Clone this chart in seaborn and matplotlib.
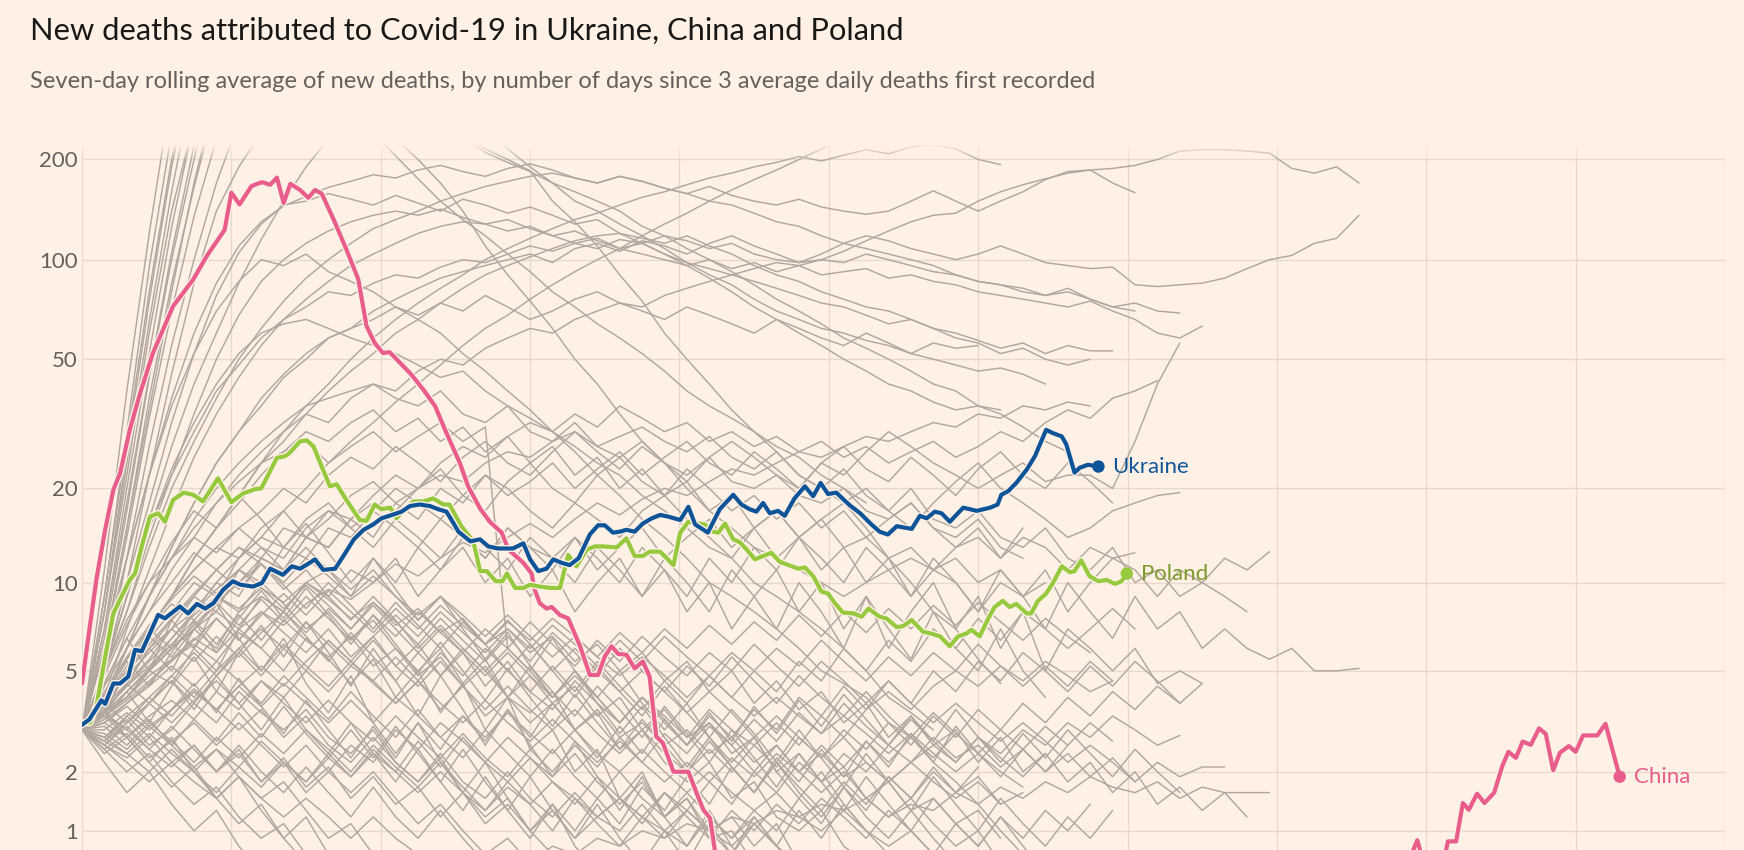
import numpy as np
import pandas as pd
import matplotlib
matplotlib.use("Agg")
import matplotlib.pyplot as plt
import matplotlib.patheffects as pe
import seaborn as sns

BG = "#FFF1E5"
GRID = "#E6D9CD"
GREY = "#B1A79E"
PINK = "#E95D8C"
BLUE = "#0F5499"
GREEN = "#96C93D"
GREEN_TXT = "#7D9A2B"
TXT = "#66605C"

sns.set_style("white", {"axes.facecolor": BG, "figure.facecolor": BG})
plt.rcParams["font.family"] = ["Lato", "DejaVu Sans"]

TITLE = "New deaths attributed to Covid-19 in Ukraine, China and Poland"
SUBTITLE = ("Seven-day rolling average of new deaths, by number of days since "
            "3 average daily deaths first recorded")
Y_TICKS = [1, 2, 5, 10, 20, 50, 100, 200]
Y_TICK_LABELS = ["1", "2", "5", "10", "20", "50", "100", "200"]
X_GRID_DAYS = list(range(0, 221, 20))

# ---- highlighted countries (day since 3 avg deaths, 7-day avg deaths) ----
china_days = [0, 1.1, 2, 3.1, 4.2, 5.1, 6.4, 7.8, 9.5, 12.2, 14.9, 16.7, 19.1, 20, 21.1,
              22.7, 24.1, 25.2, 26.1, 27, 27.9, 29.2, 30.3, 31.2, 32.1, 33.7, 35.4, 37,
              38.1, 39.2, 40.3, 41.2, 42.6, 44.1, 45.7, 47.3, 48.8, 50.6, 51.7, 53.3, 54.6,
              56.2, 57.1, 59.1, 60.2, 60.6, 61.3, 62.2, 62.9, 64, 65.1, 66.7, 68, 69.1, 70,
              70.9, 71.8, 72.9, 74, 75.1, 76, 76.9, 77.8, 79.2, 80, 81.2, 82.3, 83.2, 84.1,
              85, 86, 90, 100, 120, 140, 160, 177, 178.8, 180, 182, 182.9, 184, 184.9,
              185.7, 186.8, 187.8, 189.1, 190.2, 191, 192, 192.9, 194, 195.1, 196, 197,
              197.9, 199.1, 200, 201, 202.9, 204, 205.9]
china_vals = [4.5, 7.3, 10.5, 14.8, 19.8, 22.3, 30.4, 39.5, 52.2, 72.4, 87.2, 102.5, 123, 159,
              146.6, 166.5, 171, 168, 176.5, 148, 169, 162, 153.5, 162, 158, 132, 107.4, 87.2,
              63, 56, 52.2, 52.5, 48.7, 44.9, 40.4, 35.9, 29.7, 24, 20.3, 17.3, 15.7,
              14.5, 12.8, 11.6, 10.7, 9.5, 8.55, 8.2, 8.3, 7.8, 7.6, 6.1, 4.83, 4.83, 5.62,
              6.1, 5.74, 5.7, 5.1, 5.4, 4.77, 2.82, 2.65, 2.0, 2.0, 2.0, 1.59, 1.31, 1.18,
              0.6, 0.4, 0.3, 0.2, 0.1, 0.2, 0.3, 0.5, 0.875, 0.5, 0.5, 0.86, 0.86, 1.42,
              1.31, 1.58, 1.42, 1.6, 2.13, 2.44, 2.3, 2.69, 2.61, 3.04, 2.89, 2.03,
              2.42, 2.58, 2.44, 2.85, 2.85, 3.17, 1.9]

ukraine_days = [0, 1, 2.6, 3.1, 4.2, 5.1, 6.2, 7.1, 8, 8.9, 10.2, 11.1, 13.1, 14.2, 15.4, 16.5,
                17.6, 18.9, 20.2, 21.2, 22.9, 24.1, 25.2, 26.9, 28.1, 29.2, 30.5, 31.2, 32.3,
                33.9, 35, 36.4, 37.7, 39, 40.1, 41.5, 42.8, 43.9, 45.2, 46.6, 47.7, 48.8, 49.7,
                50.4, 52, 53.3, 54.4, 55.7, 57.7, 59.1, 60, 61.1, 62.2, 63.1, 64.2, 65.3, 66.5,
                68, 69.1, 70, 71.1, 72, 72.9, 74, 75.1, 76.3, 77.4, 78.5, 80.1, 81.2, 82.1,
                83.8, 85.4, 87.2, 88.3, 89.4, 90.3, 91.2, 92.1, 93.2, 94.1, 95.4, 96.8, 97.9,
                98.9, 99.9, 101, 102.8, 104.2, 105.7, 106.8, 107.9, 109.1, 111.1, 112.2, 113.1,
                114.2, 115.1, 116.2, 118, 119.8, 121.6, 122.6, 123.1, 124, 125.1, 126.5, 127.6,
                129.1, 130, 131.2, 131.8, 132.9, 133.6, 134.7, 136.1]
ukraine_vals = [3.14, 3.3, 3.9, 3.78, 4.5, 4.5, 4.77, 5.93, 5.86, 6.59, 7.81, 7.6, 8.33, 7.9, 8.5,
                8.2, 8.55, 9.47, 10.1, 9.84, 9.7, 9.97, 11.1, 10.6, 11.3, 11.1, 11.6, 11.9, 11.0,
                11.1, 12.2, 13.8, 14.8, 15.4, 16.1, 16.5, 16.9, 17.6, 17.8, 17.6, 17.2, 16.9, 15.6,
                14.6, 13.6, 13.8, 13.1, 12.9, 12.9, 13.4, 11.9, 10.9, 11.1, 11.9, 11.6, 11.4, 12.0,
                14.3, 15.3, 15.3, 14.5, 14.6, 14.8, 14.6, 15.5, 16.1, 16.5, 16.3, 15.9, 17.5, 15.4,
                14.5, 17.2, 19.1, 17.8, 17.2, 16.9, 18.0, 16.7, 17.0, 16.4, 18.6, 20.3, 18.9,
                20.8, 19.2, 19.4, 17.7, 16.7, 15.4, 14.6, 14.3, 15.2, 14.9, 16.4, 16.1,
                16.9, 16.7, 15.7, 17.4, 17.0, 17.4, 17.8, 19.1, 19.6, 20.8, 22.9, 25.2,
                30.4, 29.7, 29.0, 27.4, 22.4, 23.2, 23.7, 23.4]

poland_days = [0, 1.1, 2, 3.1, 4.2, 5.3, 6.4, 7.1, 8, 9.1, 10.2, 11.1, 12.2, 13.6, 14.9, 16.2,
               18.2, 20, 21.6, 23.2, 24, 26.1, 27.2, 27.8, 29.2, 30.1, 31, 32.1, 33.2, 34.1,
               35.4, 37.2, 38.1, 39.2, 40.1, 41.3, 42.1, 43.5, 44.4, 45.7, 47, 48.4, 49.2, 50.8,
               52.4, 53.3, 54.2, 55.4, 56.3, 56.9, 58, 59.1, 60, 61.3, 62.7, 64, 65.1, 66.2,
               67.6, 68.7, 69.8, 71.6, 72.9, 74, 75.1, 76, 77.4, 78, 79.2, 80.1, 81.2, 82.5,
               83.4, 84.5, 85.2, 86.1, 87.2, 88.1, 89, 90.1, 91.2, 92.3, 93.4, 94.6, 95.9, 96.8,
               97.9, 99, 99.9, 100.8, 101.9, 103.3, 104.4, 105.3, 106.8, 107.7, 109.1, 109.9,
               111.1, 112.6, 113.7, 114.9, 116.2, 117.3, 118.4, 119.1, 120.2, 121.3, 122.2,
               123.3, 124.2, 125.1, 126.5, 127.1, 128, 129.1, 130, 131.2, 132.3, 132.9, 133.8,
               134.9, 136.1, 137.2, 138.3, 139.2, 139.9]
poland_vals = [3.2, 3.2, 3.8, 5.6, 7.9, 9.0, 10.2, 10.7, 13.1, 16.3, 16.7, 15.7, 18.4, 19.4, 19.1,
               18.2, 21.5, 18.1, 19.3, 19.9, 20.0, 24.9, 25.2, 25.8, 28.0, 28.2, 27.0, 23.4, 20.3,
               20.6, 18.4, 15.9, 15.8, 17.8, 17.2, 17.4, 16.1, 17.5, 18.2, 18.2, 18.6, 17.8, 17.8,
               15.2, 13.6, 10.9, 10.9, 10.1, 10.1, 10.7, 9.6, 9.6, 9.84, 9.7, 9.6, 9.6, 12.3, 11.3,
               12.8, 13.1, 13.1, 13.0, 13.9, 12.2, 12.2, 12.6, 12.6, 12.2, 11.4, 14.5, 15.7, 15.5,
               15.4, 14.6, 14.5, 15.5, 13.8, 13.5, 12.8, 11.9, 12.2, 12.5, 11.7, 11.4, 11.1, 11.2,
               10.5, 9.35, 9.2, 8.55, 7.95, 7.9, 7.7, 8.2, 7.7, 7.6, 7.1, 7.15,
               7.5, 6.85, 6.75, 6.6, 6.1, 6.6, 6.75, 6.95, 6.6, 7.55, 8.3,
               8.7, 8.3, 8.5, 7.9, 7.9, 8.7, 9.2, 9.96, 11.3, 10.8, 10.9, 11.8,
               10.5, 10.1, 10.2, 9.9, 10.1, 10.7]

# ---- other countries: 7-day avg deaths every GREY_STEP days from day 0 ----
GREY_STEP = 3
grey_series = [
    # steep early risers
    [3, 11, 40, 120, 320, 700],
    [3, 9, 30, 95, 240, 500],
    [3, 8, 26, 75, 190, 400],
    [3, 8, 24, 65, 160, 350],
    [3, 7, 20, 52, 125, 260, 480],
    [3, 6.5, 17, 44, 100, 200, 380],
    [3, 6, 15, 38, 85, 165, 300],
    [3, 6, 14, 33, 70, 135, 230, 400],
    [3, 5, 12, 27, 55, 100, 170, 260],
    [3, 5, 10, 22, 45, 85, 140, 190, 240],
    # high plateaus / long runners
    [3, 5, 9, 15, 22, 30, 40, 48, 58, 66, 72, 80, 78, 85, 90, 88, 95, 100, 98, 104,
     110, 106, 112, 108, 115, 112, 118, 114, 108, 112, 104, 100, 98, 100, 106, 114, 122, 130, 136, 138,
     150, 160, 168, 175, 182, 186, 188, 192, 200, 212, 214, 214, 212, 209, 188, 182, 190, 170],
    [3, 4, 6, 9, 13, 18, 24, 30, 36, 44, 50, 58, 62, 70, 76, 82, 88, 92, 96, 100,
     104, 98, 108, 112, 106, 114, 110, 104, 112, 118, 110, 104, 98, 104, 112, 118, 114, 108, 104, 100,
     104, 110, 104, 98, 96, 94, 95, 84, 83, 84, 85, 88, 94, 100, 103, 112, 116, 136],
    [3, 6, 12, 22, 38, 60, 85, 110, 130, 145, 155, 165, 172, 180, 176, 186, 192, 184, 178, 188,
     194, 186, 176, 170, 178, 172, 164, 158, 166, 156, 150, 146, 152, 144, 140, 137, 140, 150, 161, 150,
     140, 150, 160, 174, 184, 186, 170, 159],
    [3, 5, 8, 13, 20, 28, 38, 50, 62, 75, 88, 100, 112, 124, 132, 140, 150, 158, 166, 172,
     178, 182, 176, 170, 178, 172, 164, 158, 150, 146, 138, 130, 126, 118, 112, 108, 104, 100, 96, 90,
     86, 84, 80, 78, 82, 76, 72, 74, 70, 69],
    [3, 4, 7, 11, 17, 25, 34, 44, 55, 66, 76, 86, 96, 104, 112, 120, 126, 130, 128, 122,
     126, 118, 112, 116, 108, 104, 100, 96, 100, 94, 98, 92, 96, 90, 92, 94, 88, 90, 86, 84,
     80, 78, 76, 74, 72, 75, 70, 66, 60, 58, 63],
    [3, 3.5, 5, 7, 9, 12, 15, 19, 24, 28, 34, 40, 46, 52, 60, 66, 74, 82, 90, 96,
     102, 108, 114, 118, 120, 116, 112, 118, 110, 104, 96, 90, 86, 80, 76, 72, 70, 66, 62, 60,
     57, 54, 56, 52, 55, 53, 53],
    [3, 4, 5, 7, 6, 8, 10, 9, 12, 11, 14, 13, 16, 14, 18, 16, 20, 18, 22, 19,
     21, 24, 20, 23, 26, 22, 25, 28, 24, 22, 26, 23, 20, 24, 22, 26, 30, 27, 24, 22,
     20, 22, 24, 21, 22, 22, 20, 28, 42, 56],
    [3, 3.5, 4.5, 6, 7, 9, 8, 11, 13, 12, 15, 17, 16, 19, 22, 20, 24, 27, 25, 29,
     32, 30, 34, 31, 36, 33, 30, 32, 28, 30, 27, 29, 26, 28, 25, 27, 24, 26, 28, 25,
     27, 30, 28, 32, 35, 33, 38, 40, 43],
    [3, 8, 22, 60, 140, 260, 400, 520, 600, 640, 620, 580, 520, 460, 400, 340, 280, 235, 210, 196,
     184, 170, 160, 150, 140, 126, 118, 108, 100, 92, 84, 76, 70, 64, 58, 54, 50, 46, 42, 40,
     36, 34, 31, 28, 26],
    [3, 9, 28, 80, 200, 380, 560, 700, 760, 720, 640, 560, 480, 420, 360, 310, 270, 240, 215, 200,
     185, 150, 130, 110, 90, 75, 60, 50, 42, 35, 30, 26, 22, 20, 18, 15, 12, 10, 8, 7, 5.5, 4.5],
    [3, 7, 18, 45, 105, 220, 400, 600, 760, 840, 800, 720, 640, 560, 480, 420, 360, 300, 250, 215,
     190, 170, 150, 140, 128, 118, 108, 98, 90, 84, 76, 70, 66, 62, 60, 57, 55, 52, 50, 48,
     46, 47, 45, 42],
    [3, 6, 15, 35, 80, 170, 320, 480, 560, 520, 440, 380, 320, 270, 230, 200, 170, 140, 110, 90,
     75, 62, 50, 42, 34, 28, 24, 20, 17, 15, 13, 12, 11, 10, 9, 10, 11, 12, 11, 13, 14, 12, 15],
    [3, 5, 9, 16, 27, 42, 60, 85, 115, 150, 190, 230, 260, 240, 205, 175, 150, 132, 118, 104,
     92, 80, 72, 64, 58, 52, 46, 40, 36, 33, 30, 27, 25, 22, 20, 18],
    [3, 5, 10, 18, 32, 52, 78, 105, 128, 146, 150, 158, 152, 146, 156, 148, 140, 152, 146, 138,
     144, 136, 128, 132, 120, 112, 104, 96, 88, 80, 72, 66, 60, 55, 50, 46, 42, 40, 37, 35, 36, 35],
    [3, 4, 6, 9, 13, 18, 24, 30, 38, 45, 52, 58, 62, 66, 72, 68, 74, 70, 78, 72,
     66, 70, 76, 80, 74, 70, 66, 72, 68, 64, 60, 66, 62, 58, 55, 60, 56, 52, 56, 54, 55],
    [3, 3.5, 4, 5, 6.5, 8, 10, 12, 14, 17, 20, 24, 28, 32, 37, 42, 48, 55, 62, 68,
     76, 84, 92, 100, 108, 118, 128, 138, 150, 162, 174, 186, 200, 215, 230, 250, 270],
    [3, 4, 5, 7, 9, 12, 15, 19, 24, 30, 36, 42, 50, 58, 66, 74, 82, 90, 100, 108,
     116, 124, 132, 138, 146, 154, 160, 168, 176, 182, 190, 196, 204, 198, 206, 214, 208, 218, 222, 215,
     200, 193],
    [3, 5, 8, 14, 22, 34, 50, 68, 86, 100, 112, 122, 130, 136, 140, 136, 142, 134, 128, 132,
     124, 118, 122, 114, 108, 112, 104, 98, 94, 90, 86, 82, 78, 74, 72, 68, 64, 66, 62, 58,
     56, 52, 54, 50, 48, 50],
    [3, 4, 6, 8, 11, 14, 18, 22, 26, 30, 34, 32, 38, 42, 40, 46, 50, 48, 54, 58,
     62, 60, 66, 70, 74, 72, 78, 82, 86, 90, 94, 98, 96, 100, 98, 104, 100, 96, 92, 90,
     86, 84, 82, 78, 80, 76, 72, 70],
    [3, 6, 12, 22, 36, 52, 70, 86, 100, 96, 104, 92, 86, 80, 72, 66, 60, 52, 46, 40,
     35, 30, 26, 22, 19, 16, 14, 12, 10, 9, 8, 7, 6, 5, 4.5, 4, 3.2, 2.8, 2.2, 1.8,
     1.4, 1.0, 0.7, 0.5],
    [3, 5, 9, 15, 23, 32, 42, 52, 60, 64, 66, 62, 58, 55, 52, 48, 44, 46, 40, 36,
     33, 30, 27, 24, 22, 19, 17, 15, 13, 12, 10, 9, 8, 7, 6, 5, 4, 3.5, 3],
    [3, 4, 6, 9, 12, 16, 20, 24, 28, 32, 36, 38, 40, 42, 38, 36, 40, 34, 32, 36,
     30, 28, 32, 27, 25, 28, 24, 22, 25, 21, 20, 22, 19, 18, 20, 17, 16, 18, 15, 14, 16, 13, 12],
    # middle band
    [3, 4, 5, 6.5, 8, 10, 9, 12, 14, 13, 16, 18, 15, 17, 20, 18, 16, 19, 22, 20,
     17, 15, 18, 16, 14, 17, 19, 16, 14, 12, 15, 17, 14, 16, 18, 20, 17, 15, 18, 21,
     24, 20, 18, 16, 14, 15, 17, 18, 19, 19.4],
    [3, 3.5, 5, 7, 9, 11, 13, 12, 15, 17, 14, 16, 19, 21, 18, 20, 23, 19, 17, 21,
     24, 20, 18, 22, 25, 21, 19, 23, 20, 17, 19, 16, 18, 15, 17, 14, 16, 18, 15, 13,
     15, 12, 14, 13, 11, 13, 12, 12.5],
    [3, 3.5, 4, 5, 6, 7, 6, 8, 9, 8, 10, 11, 9, 12, 10, 13, 11, 14, 12, 15,
     13, 12, 14, 11, 13, 15, 12, 14, 16, 13, 15, 12, 14, 11, 13, 10, 12, 9, 11, 10,
     8, 10, 9, 11, 8, 10, 12, 11, 9, 11, 10, 12, 11, 12.6],
    [3, 3.5, 4.5, 5.5, 7, 8, 9.5, 11, 10, 13, 12, 15, 14, 17, 15, 13, 16, 14, 12, 15,
     13, 11, 14, 12, 10, 13, 11, 9, 12, 10, 13, 11, 14, 12, 10, 13, 11, 9, 12, 10,
     8, 11, 9, 7, 10, 8, 6.5, 9, 7, 8, 6, 7, 6, 5.5, 6, 5, 5, 5.1],
    [3, 4, 5, 6, 5, 7, 8, 7, 9, 8, 10, 9, 11, 10, 12, 9, 11, 13, 10, 12,
     9, 11, 8, 10, 12, 9, 11, 8, 10, 7, 9, 11, 8, 10, 7, 9, 6, 8, 10, 7,
     9, 6, 8, 5, 7, 6, 5, 6, 4.5, 5, 4.5],
    [3, 4, 5.5, 7, 9, 11, 13, 15, 17, 20, 18, 22, 25, 23, 27, 24, 21, 25, 28, 24,
     22, 26, 30, 26, 23, 27, 24, 21, 25, 28, 25, 22, 20, 24, 27, 23, 21, 25, 22, 19,
     23, 26, 22, 20, 24, 21, 18],
    [3, 3.5, 4, 5, 6, 7, 8.5, 10, 12, 11, 14, 13, 16, 18, 17, 20, 22, 21, 24, 26,
     25, 28, 30, 27, 29, 31, 28, 26, 29, 25, 23, 26, 22, 20, 23, 19, 17, 20, 16, 15,
     17, 14, 13, 15, 12, 11, 13, 10, 11, 9, 10, 9, 8],
    [3, 4, 5, 7, 9, 12, 15, 18, 22, 26, 30, 28, 32, 35, 30, 33, 28, 31, 26, 29,
     24, 27, 22, 25, 20, 23, 19, 21, 17, 19, 15, 17, 14, 16, 13, 14, 12, 13, 11, 12, 10, 11, 9, 10],
    [3, 3.5, 4.5, 6, 7.5, 9, 11, 13, 12, 15, 14, 17, 15, 13, 16, 14, 12, 15, 13, 11,
     14, 12, 10, 13, 11, 9, 12, 10, 8, 11, 9, 7, 10, 8, 6, 9, 7, 5.5, 8, 6, 5, 7, 5, 4],
    [3, 3.2, 3.8, 4.5, 5.5, 6.5, 5.8, 7, 8, 7.2, 8.5, 9.5, 8.8, 10, 11.5, 10.5, 12, 13.5, 12.5, 14,
     15.5, 14, 16, 18, 16.5, 18.5, 20, 19, 21, 23, 22, 24, 26, 25, 27, 29, 28, 30, 32, 31,
     34, 33, 36, 35, 37, 36],
    [3, 4.5, 6.5, 9, 12, 15, 18, 21, 24, 26, 28, 24, 27, 30, 26, 29, 32, 28, 31, 6,
     5, 6.5, 5, 4, 5, 3.8, 3, 3.8, 2.8, 2.2, 2.8, 2, 1.5, 2, 1.4, 1],
    [3, 4.8, 7.2, 10, 13.5, 17, 15, 19, 16, 13, 15.5, 12.5, 10, 12, 9.5, 7.5, 9, 7, 5.5, 6.8,
     5.2, 4, 5, 3.8, 2.9, 3.7, 2.8, 2.1, 2.8, 2.1, 1.6, 2.2, 1.6, 1.2, 1.7, 1.2, 0.9, 1.3, 0.9, 0.6],
    # low band
    [3, 3.5, 4, 5, 4.5, 6, 5, 7, 6, 5, 6.5, 5.5, 4.5, 5.5, 4, 5, 3.5, 4.5, 3, 4,
     2.5, 3, 2, 2.5, 1.5, 2, 1.2, 1.5, 0.9, 1, 0.6],
    [3, 2.8, 3.3, 2.6, 3, 3.8, 3.2, 4.2, 3.5, 3, 3.6, 2.8, 2.4, 3, 2.2, 1.8, 2.3, 1.6, 1.2, 1.5,
     1, 0.7, 0.5],
    [3, 4, 5.5, 7, 8.5, 7.5, 9, 8, 10, 8.5, 7, 8, 6.5, 7.5, 6, 5, 6, 4.5, 5.5, 4,
     3.5, 4.2, 3, 3.5, 2.5, 3, 2.2, 1.8, 2.2, 1.5, 1.8, 1.2, 1, 1.3, 0.8, 0.6],
    [3, 3.4, 4, 4.8, 5.5, 6.2, 5.4, 6.8, 6, 7.5, 6.4, 5.6, 6.6, 5.2, 6, 4.8, 5.6, 4.4, 5.2, 4,
     4.8, 3.8, 4.4, 3.4, 4, 3, 3.6, 2.8, 3.2, 2.4, 2.8, 2, 2.4, 1.8, 2.1, 1.5, 1.8, 1.3, 1.5, 1.1,
     1.3, 0.9],
    [3, 2.6, 2.3, 2.8, 2.2, 2.6, 2, 2.4, 1.8, 2.2, 1.6, 2, 2.6, 2.2, 3, 2.5, 3.2, 2.7, 2.2, 2.8,
     2.3, 1.9, 2.4, 1.8, 1.4, 1.8, 1.2, 1.5, 1, 1.2, 0.8, 1.1, 0.6],
    [3, 3.6, 4.4, 5.4, 6.5, 7.8, 9, 8.2, 9.6, 8.6, 10, 8.8, 7.6, 8.6, 7.2, 8.2, 6.8, 7.6, 6.2, 7,
     5.8, 6.6, 5.4, 6.2, 5, 5.8, 4.6, 5.4, 4.2, 5, 3.8, 4.6, 3.6, 4.2, 3.2, 3.8, 2.8, 3.4, 2.6, 3,
     2.2, 2.8, 2, 2.4, 1.8, 2.2, 1.6, 2, 1.4, 1.7, 1.3, 1.6, 1.2],
    [3, 3.2, 2.8, 3.4, 3.9, 3.3, 4.2, 3.6, 4.6, 4, 5, 4.2, 5.2, 4.6, 3.8, 4.6, 3.6, 4.4, 3.4, 4,
     3.2, 3.8, 3, 3.6, 2.8, 3.2, 2.6, 3, 2.4, 2.8, 2.2, 2.6, 2, 2.4, 1.9, 2.2, 1.8, 2.2, 2.6, 2.2,
     2.8, 2.4, 3, 2.6, 3.2, 2.8, 3.4, 3, 2.6, 2.85],
    [3, 2.6, 3.1, 2.5, 2.1, 2.6, 2, 2.5, 1.8, 2.3, 1.7, 2.1, 1.5, 1.9, 1.4, 1.7, 1.2, 1.6, 1.1, 1.4,
     1, 1.3, 0.9, 1.2, 1.5, 1.2, 1.6, 1.3, 1.8, 1.4, 2, 1.6, 2.2, 1.8, 2.4, 2, 2.6, 2.2, 2.8, 2.3,
     2.6, 2.1, 2.5, 2, 2.4, 1.9, 2.3, 1.8, 2.2, 1.9, 2.1, 2.1],
    [3, 2.5, 2, 2.4, 1.8, 1.4, 1.7, 1.2, 0.9, 1.1, 0.7, 0.5, 0.4, 0.3, 0.3, 0.4, 0.5, 0.6, 0.5, 0.7,
     0.6, 0.8, 0.7, 0.9, 0.8, 1, 0.9, 1.1, 1, 1.2, 1.1, 1.3, 1.2, 1.4, 1.3, 1.5, 1.2, 1.4, 1.3, 1.6,
     1.4, 1.7, 1.5, 1.8, 1.6, 1.9, 1.7, 1.6, 1.8, 1.5, 1.7, 1.6, 1.6, 1.6],
    [3, 3.8, 4.8, 5.8, 7, 6, 7.6, 6.4, 8, 6.8, 5.8, 7, 5.6, 6.6, 5.2, 6.2, 4.8, 5.8, 4.4, 5.4,
     4.2, 3.6, 4.6, 3.8, 3.2, 4, 3.4, 2.8, 3.6, 3, 2.6, 3.2, 2.6, 3.4, 2.8, 3.6, 4.2, 3.6, 4.4, 5,
     4.4, 5.2, 4.6, 5.4, 4.8, 4.2, 4.6],
    [3, 2.8, 3.4, 4, 3.4, 4.2, 3.6, 3, 3.6, 2.8, 3.4, 2.6, 2.2, 2.8, 2.2, 1.8, 2.4, 1.8, 1.5, 2,
     1.5, 1.2, 1.6, 1.2, 1, 1.4, 1, 0.8, 1.2, 0.9, 1.3, 1, 1.5, 1.1, 1.7, 1.3, 1.9, 1.5, 2.1, 1.6,
     1.9, 1.4],
    [3, 4.2, 5.6, 7.2, 8.8, 10.5, 9.2, 11, 9.6, 8.2, 9.8, 8.4, 7, 8.4, 7, 5.8, 7, 5.8, 4.8, 5.8,
     4.8, 4, 4.8, 4, 3.2, 4, 3.2, 2.6, 3.2, 2.6, 2, 2.6, 2, 1.6, 2, 1.5, 1.2, 1.5, 1.1, 0.8,
     1, 0.6],
    [3, 3.5, 3, 3.8, 4.6, 3.8, 4.8, 5.8, 4.8, 6, 5, 6.4, 5.4, 4.6, 5.6, 4.6, 5.8, 4.8, 6, 5,
     4.2, 5.2, 4.2, 5.4, 4.4, 3.6, 4.6, 3.8, 4.8, 4, 5, 4.2, 5.4, 4.6, 6, 5, 6.4, 5.4, 7, 6,
     7.6, 6.4, 8, 7, 6, 7, 8.2, 7],
    [3, 2.5, 2.9, 2.3, 2.7, 3.2, 2.6, 3.2, 2.6, 2.1, 2.6, 2, 1.6, 2, 1.5, 1.1, 1.4, 1, 0.7, 0.9,
     0.6, 0.4],
    [3, 3.7, 4.5, 3.8, 4.8, 5.8, 4.8, 6, 7, 6, 7.4, 6.2, 5.2, 6.4, 5.2, 4.4, 5.4, 4.4, 3.6, 4.4,
     3.6, 3, 3.6, 2.9, 2.4, 3, 2.4, 2, 2.5, 2, 2.6, 2.1, 2.8, 2.3, 3, 2.5, 3.2, 2.6, 3.4, 2.8,
     3.6, 3, 3.8, 3.2, 4, 3.4, 4.2, 3.6, 4.4, 3.8, 4.5],
    [3, 3.3, 3.8, 4.4, 5.2, 4.4, 5.4, 4.6, 3.8, 4.8, 4, 3.3, 4.2, 3.4, 2.8, 3.6, 2.8, 2.3, 3, 2.4,
     1.9, 2.5, 1.9, 1.5, 2, 1.5, 1.2, 1.6, 1.2, 0.9, 1.2, 0.8, 0.6],
    [3, 4.4, 6, 8, 10, 12.5, 11, 13, 11.5, 9.5, 11, 9, 7.5, 9, 7.5, 6, 7.2, 6, 5, 6,
     5, 4, 5, 4, 3.2, 4, 3.3, 2.6, 3.4, 2.8, 3.6, 3, 4, 3.4, 4.4, 3.6, 4.6, 3.8, 5, 4.2,
     5.4, 4.6, 5.8, 5, 4.2, 5.2, 4.4, 5.4, 4.6, 3.8],
    [3, 2.7, 3.2, 3.8, 3.2, 3.9, 4.6, 3.8, 4.6, 3.8, 3.2, 3.9, 3.2, 2.7, 3.4, 2.8, 2.3, 2.9, 2.3, 1.9,
     2.5, 2, 2.6, 2.1, 2.8, 2.2, 2.9, 2.4, 3.1, 2.6, 3.3, 2.7, 3.5, 2.9, 3.8, 3.1, 2.6, 3.3, 2.7, 2.2,
     2.8, 2.3, 1.9, 2.4],
    [3, 5, 7.5, 10, 12, 14, 12.5, 15, 13, 11, 13, 11, 9.5, 11, 9, 7.5, 9, 7.5, 6.2, 7.5,
     6.2, 5, 6, 5, 4.2, 5, 4.2, 3.5, 4.2, 3.5, 2.8, 3.4, 2.8, 2.3, 2.8, 2.2, 1.8, 2.2, 1.8, 1.5,
     1.8, 1.4, 1.6],
    [3, 3.6, 4.4, 5.2, 6.2, 5.4, 6.6, 5.6, 6.8, 8, 6.8, 8.2, 7, 8.6, 7.4, 6.2, 7.6, 6.4, 5.4, 6.6,
     5.4, 6.8, 5.8, 4.8, 6, 5, 4.2, 5.2, 4.4, 5.6, 4.6, 3.8, 4.8, 4, 3.4, 4.2, 3.4, 2.8, 3.5, 2.9],
    [3, 2.4, 2.8, 2.2, 1.7, 2.1, 1.5, 1.1, 1.4, 0.9, 0.6],
    [3, 3.4, 2.8, 3.3, 2.6, 2.1, 2.5, 1.9, 1.5, 1.8, 1.3, 0.9, 1.1, 0.7],
    [3, 3.2, 3.7, 3.1, 3.6, 4.3, 3.6, 4.4, 3.7, 4.5, 3.8, 3.2, 3.9, 3.2, 4, 3.4, 2.8, 3.4, 2.8, 3.5,
     2.9, 2.4, 3, 2.4, 2, 2.5, 2, 1.6, 2, 1.6, 1.3, 1.6, 1.2, 1, 1.3, 1, 0.8, 1, 0.7],
    [3, 4, 5.2, 6.6, 5.6, 7, 8.6, 7.2, 8.8, 7.4, 9, 7.6, 6.4, 7.8, 6.6, 8, 6.8, 5.8, 7, 6,
     7.4, 6.2, 5.2, 6.4, 5.4, 6.6, 5.6, 4.8, 5.8, 5, 6.2, 5.2, 4.4, 5.4, 4.6, 3.8, 4.6, 3.8, 3.2, 3.8,
     3.2, 2.7, 3.2, 2.7, 2.2, 2.6, 2.2, 1.8],
    [3, 2.7, 2.4, 2.9, 2.4, 2, 2.5, 2.1, 2.7, 2.2, 1.8, 2.3, 1.9, 2.4, 2, 1.6, 2, 1.6, 1.3, 1.7,
     1.4, 1.8, 1.5, 1.2, 1.5, 1.2, 1, 1.3, 1, 0.8, 1.1, 0.8],
    [3, 3.5, 4.2, 5, 6, 7.2, 8.6, 10, 11.5, 10, 12, 10.5, 9, 10.5, 9, 7.8, 9, 7.8, 6.6, 7.8,
     6.6, 5.6, 6.6, 5.6, 4.8, 5.6, 4.8, 4, 4.8, 4, 3.4, 4, 3.4, 2.9, 3.4, 2.9, 2.4, 2.9, 2.4, 2,
     2.4, 2, 1.7],
    [3, 3, 3.5, 3, 3.6, 4.2, 3.6, 4.4, 5.2, 4.4, 5.4, 6.4, 5.4, 6.6, 7.8, 6.6, 8, 6.8, 5.8, 7,
     6, 7.2, 6.2, 5.2, 6.4, 5.4, 6.6, 5.6, 4.8, 5.8, 5, 6, 5.2, 6.4, 5.4, 4.6, 5.6, 4.8, 5.8, 5,
     6.2, 5.2, 4.4, 5.2, 4.4, 5.4, 4.6],
    [3, 2.6, 2.2, 1.8, 2.2, 1.8, 1.5, 1.9, 1.5, 1.2, 1.5, 1.2, 0.9, 1.2, 0.9, 0.7, 0.5],
    [3, 3.8, 3.2, 4, 4.8, 4, 5, 6, 5, 6.2, 5.2, 4.4, 5.4, 4.5, 3.8, 4.6, 3.8, 3.2, 3.9, 3.2,
     2.7, 3.3, 2.7, 2.2, 2.7, 2.2, 1.8, 2.2, 1.8, 2.3, 1.9, 2.4, 2, 2.6, 2.1, 2.7, 2.2, 2.8, 2.3, 2.9,
     2.4, 3, 2.5, 3.1, 2.6, 3.2, 2.7],
    [3, 3.4, 3.9, 4.6, 5.4, 6.4, 7.6, 6.4, 7.8, 9.2, 7.8, 9.4, 8, 6.8, 8.2, 7, 8.4, 7.2, 6.2, 7.4,
     6.4, 7.6, 6.6, 5.6, 6.8, 5.8, 7, 6, 7.2, 6.2, 7.4, 6.4, 7.8, 6.6, 8, 6.8, 8.2, 7, 8.4, 7.2,
     8.6, 7.4, 6.4, 7.6, 6.6, 5.8],
    [3, 2.2, 1.6, 2, 1.4, 1, 1.3, 0.8, 0.5],
    [3, 3.6, 2.8, 2.2, 2.8, 2, 1.5, 1.9, 1.3, 0.9, 1.2, 0.7, 0.4],
    [3, 4.5, 6.5, 5, 7.5, 6, 8.5, 6.5, 5, 6.5, 4.5, 3.5, 4.8, 3.2, 2.4, 3.2, 2.2, 1.6, 2.2, 1.5,
     1, 1.4, 0.8, 0.5],
    [3, 3.3, 4.2, 3.2, 4.4, 5.6, 4.2, 5.8, 7.2, 5.6, 7.4, 5.8, 4.4, 6, 4.6, 3.4, 4.8, 3.6, 2.6, 3.6,
     2.6, 1.9, 2.7, 1.9, 1.3, 1.9, 1.2, 0.8, 1.3, 0.8, 0.5],
    [3, 2.9, 2.5, 3.1, 2.6, 3.3, 2.7, 3.5, 2.8, 3.7, 2.9, 2.3, 3, 2.3, 3.1, 2.4, 1.8, 2.5, 1.8, 1.3,
     1.9, 1.3, 0.9, 1.4, 0.9, 0.6, 1, 0.6, 1.1, 0.7, 1.2, 0.8, 1.3, 0.9, 1.4, 1, 0.7, 0.4],
    [3, 2.6, 3.2, 3.8, 4.6, 3.6, 4.8, 3.8, 3, 4, 3, 2.4, 3.2, 2.4, 1.8, 2.5, 1.8, 1.3, 1.9, 1.3,
     0.9, 1.4, 1, 1.5, 1.1, 1.7, 1.3, 1.9, 1.4, 2.1, 1.6, 2.3, 1.8, 2.5, 1.9, 2.7, 2.1, 2.9, 2.2, 3.1,
     2.4, 1.9, 2.5, 2, 2.6],
    [3, 3.9, 5, 6.2, 7.6, 9.2, 11, 9.5, 11.5, 9.8, 8.2, 10, 8.4, 7, 8.6, 7.2, 6, 7.4, 6.2, 5,
     6.2, 5, 4, 5.2, 4.2, 3.4, 4.4, 3.5, 2.8, 3.6, 2.9, 2.2, 3, 2.3, 1.7, 2.4, 1.8, 1.3, 1.9, 1.4,
     1, 1.5, 1.1, 0.8, 1.2, 0.9, 1.3],
    [3, 3.1, 2.6, 3.2, 2.7, 2.2, 2.8, 2.3, 2.9, 2.4, 3, 2.5, 2, 2.6, 2.1, 1.7, 2.2, 1.7, 1.3, 1.8,
     1.4, 1, 1.5, 1.1, 0.8, 1.2, 0.9, 1.3, 1, 0.7, 1.1, 0.8, 0.5],
    [3, 2.7, 3.4, 2.8, 3.6, 4.5, 3.5, 4.7, 3.7, 2.9, 3.9, 3, 2.3, 3.1, 2.3, 3.2, 2.5, 3.4, 2.7, 3.6,
     2.8, 3.8, 3, 2.3, 3.1, 2.4, 3.3, 2.6, 3.5, 2.7, 3.7, 2.9, 3.9, 3.1, 4.1, 3.3, 2.6, 3.4, 2.7, 3.6,
     2.8, 2.2, 2.9, 2.3, 3, 2.4, 1.9, 2.5, 2, 1.6],
    [3, 3.4, 3, 2.5, 3.1, 2.5, 2, 2.6, 2, 1.6, 2.1, 1.6, 1.2, 1.7, 1.2, 0.9, 1.3, 0.9, 0.6],
    [3, 3.5, 4.2, 5.1, 6.2, 7.5, 6.2, 7.8, 6.4, 8, 6.6, 5.4, 6.8, 5.6, 4.6, 5.8, 4.8, 6, 5, 4,
     5.2, 4.2, 3.4, 4.4, 3.6, 2.8, 3.7, 2.9, 2.2, 3, 2.3, 1.7, 2.4, 1.8, 1.3, 1.9, 1.4, 1, 1.5, 1.1,
     0.8, 1.2, 0.8, 0.5],
    [3, 2.8, 2.4, 2, 2.5, 2, 1.6, 2.1, 1.7, 2.2, 1.8, 2.4, 1.9, 2.5, 2, 2.7, 2.1, 2.8, 2.2, 1.8,
     2.3, 1.8, 1.4, 1.9, 1.5, 1.1, 1.6, 1.2, 0.9, 1.3, 1, 1.4, 1.1, 1.5, 1.2, 0.9, 1.3, 1, 0.7, 1.1,
     0.8, 1.2, 0.9, 1.3, 1, 1.4],
    [3, 4.1, 5.4, 4.4, 5.8, 7.4, 5.8, 7.6, 9.4, 7.6, 9.6, 7.8, 6.2, 7.8, 6.2, 4.9, 6.3, 5, 3.9, 5.1,
     4, 3.1, 4.1, 3.2, 2.5, 3.3, 2.6, 2, 2.7, 2.1, 1.6, 2.2, 1.7, 1.3, 1.8, 1.4, 1.9, 1.5, 2, 1.6, 2.1],
]

# ---------------------------------------------------------------------------
W, H = 1744, 850
fig = plt.figure(figsize=(W / 100, H / 100), dpi=100)
fig.patch.set_facecolor(BG)
ax_left, ax_right, ax_top = 82 / W, 1725 / W, 1 - 145 / H
ax = fig.add_axes([ax_left, 0.0, ax_right - ax_left, ax_top])
ax.set_facecolor(BG)

grey_df = pd.concat(
    [pd.DataFrame({"country": f"c{i}",
                   "day": np.arange(len(v)) * GREY_STEP,
                   "deaths": v}) for i, v in enumerate(grey_series)],
    ignore_index=True)
sns.lineplot(data=grey_df, x="day", y="deaths", units="country", estimator=None,
             color=GREY, linewidth=1.05, sort=False, legend=False, ax=ax, zorder=2)

halo = [pe.Stroke(linewidth=5.0, foreground=BG), pe.Normal()]
highlights = [
    ("China", china_days, china_vals, PINK, PINK),
    ("Poland", poland_days, poland_vals, GREEN, GREEN_TXT),
    ("Ukraine", ukraine_days, ukraine_vals, BLUE, BLUE),
]
for name, d, v, col, tcol in highlights:
    n_before = len(ax.lines)
    sns.lineplot(x=d, y=v, color=col, linewidth=3.0, sort=False, estimator=None,
                 ax=ax, zorder=4)
    for ln in ax.lines[n_before:]:
        ln.set_path_effects(halo)
        ln.set_solid_joinstyle("round")
    ax.scatter([d[-1]], [v[-1]], s=80, color=col, zorder=5, edgecolors="none")
    ax.annotate(name, (d[-1], v[-1]), xytext=(10, 0), textcoords="offset points",
                va="center", ha="left", fontsize=16, color=tcol, zorder=6)

ax.set_yscale("function", functions=(lambda y: np.log10(np.clip(y, 0, None) + 1),
                                     lambda t: 10 ** t - 1))
ax.set_xlim(0, 220)
ax.set_ylim(0.753, 221)
ax.set_yticks(Y_TICKS)
ax.set_yticklabels(Y_TICK_LABELS)
ax.yaxis.set_minor_locator(matplotlib.ticker.NullLocator())
ax.set_xticks(X_GRID_DAYS)
ax.set_xticklabels([])
ax.tick_params(axis="both", length=0, pad=3, labelsize=16, labelcolor=TXT)
ax.grid(True, color=GRID, linewidth=1.0, zorder=0)
ax.set_axisbelow(True)
for s in ax.spines.values():
    s.set_visible(False)
ax.set_xlabel("")
ax.set_ylabel("")

# soft fade at the top of the plot area
fade_h = 16 / H
fade_ax = fig.add_axes([ax_left, ax_top - fade_h, ax_right - ax_left, fade_h])
grad = np.zeros((64, 1, 4))
rgb = matplotlib.colors.to_rgb(BG)
grad[..., 0], grad[..., 1], grad[..., 2] = rgb
grad[:, 0, 3] = np.linspace(0.9, 0.0, 64)
fade_ax.imshow(grad, aspect="auto", extent=[0, 1, 0, 1])
fade_ax.axis("off")

fig.text(30 / W, 1 - 40 / H, TITLE, fontsize=22.2, color="#1A1817", va="baseline", ha="left")
fig.text(30 / W, 1 - 88 / H, SUBTITLE, fontsize=17, color=TXT, va="baseline", ha="left")

fig.savefig("out.png", dpi=100, facecolor=BG)
